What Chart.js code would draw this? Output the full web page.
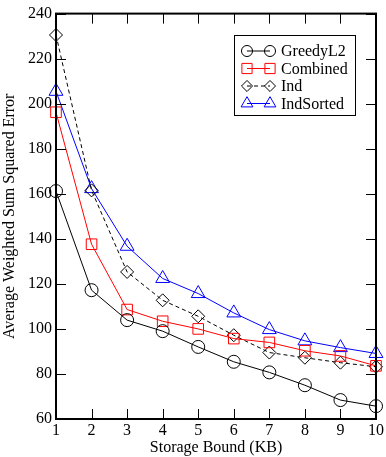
<!DOCTYPE html>
<html>
<head>
<meta charset="utf-8">
<script src="https://cdn.jsdelivr.net/npm/chart.js@4/dist/chart.umd.min.js"></script>
<style>
  html, body { margin: 0; padding: 0; background: #fff; }
  #wrap { width: 386px; height: 457px; }
</style>
</head>
<body>
<div id="wrap"><canvas id="errChart" width="386" height="457"></canvas></div>
<script>
// Storage bound in KB
const storageKB = [1, 2, 3, 4, 5, 6, 7, 8, 9, 10];

// Average weighted sum squared error per method
const greedyL2 = [161.2, 117.2, 103.9, 99.0, 92.0, 85.4, 80.7, 75.0, 68.4, 65.7];
const combined = [196.2, 137.6, 108.6, 103.4, 100.0, 95.7, 94.0, 90.3, 88.0, 83.6];
const ind = [230.5, 161.5, 125.3, 112.7, 105.6, 97.2, 89.5, 87.2, 85.0, 83.2];
const indSorted = [205.5, 162.3, 136.7, 122.4, 115.7, 107.1, 99.7, 94.7, 91.7, 89.1];

const yTicks = [60, 80, 100, 120, 140, 160, 180, 200, 220, 240];

const FONT = 'Liberation Serif, Times New Roman, serif';

const seriesStyle = [
    { label: 'GreedyL2', data: greedyL2, color: '#000000', shape: 'circle', dash: [] },
    { label: 'Combined', data: combined, color: '#ff0000', shape: 'rect', dash: [] },
    { label: 'Ind', data: ind, color: '#000000', shape: 'rectRot', dash: [4, 3] },
    { label: 'IndSorted', data: indSorted, color: '#0000ff', shape: 'triangle', dash: [] }
];

const markerRadius = { circle: 6.5, rect: 7.5, rectRot: 6.5, triangle: 8 };

function drawMarker(ctx, shape, x, y, r, color) {
    ctx.save();
    ctx.strokeStyle = color;
    ctx.lineWidth = 1;
    ctx.setLineDash([]);
    ctx.beginPath();
    if (shape === 'circle') {
        ctx.arc(x, y, r, 0, Math.PI * 2);
    } else if (shape === 'rect') {
        const h = r * 0.8;
        ctx.rect(x - h, y - h, h * 2, h * 2);
    } else if (shape === 'rectRot') {
        ctx.moveTo(x, y - r);
        ctx.lineTo(x + r, y);
        ctx.lineTo(x, y + r);
        ctx.lineTo(x - r, y);
        ctx.closePath();
    } else if (shape === 'triangle') {
        ctx.moveTo(x, y - r);
        ctx.lineTo(x + r * 0.87, y + r * 0.5);
        ctx.lineTo(x - r * 0.87, y + r * 0.5);
        ctx.closePath();
    }
    ctx.stroke();
    ctx.restore();
}

// frame with inward ticks on all four sides
const framePlugin = {
    id: 'frame',
    afterDatasetsDraw(chart) {
        const { ctx, chartArea: a, scales } = chart;
        ctx.save();
        ctx.strokeStyle = '#000';
        ctx.lineWidth = 1;
        ctx.beginPath();
        storageKB.forEach(v => {
            const x = Math.round(scales.x.getPixelForValue(v)) + 0.5;
            ctx.moveTo(x, a.bottom);
            ctx.lineTo(x, a.bottom - 10);
            ctx.moveTo(x, a.top);
            ctx.lineTo(x, a.top + 10);
        });
        yTicks.forEach(v => {
            const y = Math.round(scales.y.getPixelForValue(v)) + 0.5;
            ctx.moveTo(a.left, y);
            ctx.lineTo(a.left + 10, y);
            ctx.moveTo(a.right, y);
            ctx.lineTo(a.right - 10, y);
        });
        ctx.stroke();
        ctx.lineWidth = 2;
        ctx.strokeRect(a.left, a.top, a.right - a.left, a.bottom - a.top);
        ctx.restore();
    },
    afterDraw(chart) {
        // legend box in the upper right corner
        const ctx = chart.ctx;
        const bx = 234, by = 35, bw = 121, bh = 80;
        ctx.save();
        ctx.fillStyle = '#fff';
        ctx.fillRect(bx, by, bw, bh);
        ctx.strokeStyle = '#000';
        ctx.lineWidth = 1;
        ctx.strokeRect(bx + 0.5, by + 0.5, bw, bh);
        ctx.font = '16px ' + FONT;
        ctx.textBaseline = 'middle';
        seriesStyle.forEach((s, i) => {
            const y = 51 + i * 17.5;
            ctx.strokeStyle = s.color;
            ctx.setLineDash(s.dash);
            ctx.beginPath();
            ctx.moveTo(247, y);
            ctx.lineTo(270, y);
            ctx.stroke();
            const r = markerRadius[s.shape] * 0.85;
            drawMarker(ctx, s.shape, 247, y, r, s.color);
            drawMarker(ctx, s.shape, 270, y, r, s.color);
            ctx.fillStyle = '#000';
            ctx.fillText(s.label, 281, y + 1);
        });
        ctx.restore();
    }
};

new Chart(document.getElementById('errChart'), {
    type: 'line',
    data: {
        datasets: seriesStyle.map(s => ({
            label: s.label,
            data: storageKB.map((k, i) => ({ x: k, y: s.data[i] })),
            borderColor: s.color,
            borderWidth: 1,
            borderDash: s.dash,
            backgroundColor: 'rgba(0,0,0,0)',
            pointStyle: s.shape,
            pointRadius: markerRadius[s.shape],
            pointBorderWidth: 1,
            pointBorderColor: s.color,
            pointBackgroundColor: 'rgba(0,0,0,0)',
            tension: 0,
            clip: false
        }))
    },
    options: {
        responsive: false,
        animation: false,
        layout: { padding: { left: 0, right: 8, top: 13, bottom: 0 } },
        plugins: { legend: { display: false }, tooltip: { enabled: false } },
        scales: {
            x: {
                type: 'linear',
                min: 1,
                max: 10,
                grid: { display: false, drawTicks: false },
                border: { display: false },
                afterFit(scale) { scale.height = 38; },
                afterBuildTicks(scale) { scale.ticks = storageKB.map(v => ({ value: v })); },
                ticks: { color: '#000', font: { family: FONT, size: 16 }, padding: 2, maxRotation: 0, autoSkip: false },
                title: { display: true, text: 'Storage Bound (KB)', color: '#000', font: { family: FONT, size: 16 }, padding: { top: 0, bottom: 0 } }
            },
            y: {
                min: 60,
                max: 240,
                grid: { display: false, drawTicks: false },
                border: { display: false },
                afterFit(scale) { scale.width = 56; },
                afterBuildTicks(scale) { scale.ticks = yTicks.map(v => ({ value: v })); },
                ticks: { color: '#000', font: { family: FONT, size: 16 }, padding: 4 },
                title: { display: true, text: 'Average Weighted Sum Squared Error', color: '#000', font: { family: FONT, size: 16 }, padding: { top: 0, bottom: 2 } }
            }
        }
    },
    plugins: [framePlugin]
});
</script>
</body>
</html>
